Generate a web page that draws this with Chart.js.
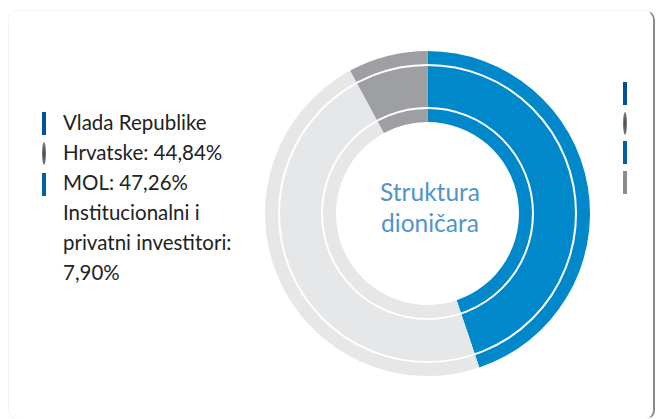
<!DOCTYPE html>
<html>
<head>
<meta charset="utf-8">
<script src="https://cdn.jsdelivr.net/npm/chart.js@4"></script>
<style>
  html, body { margin: 0; padding: 0; background: #ffffff; }
  body { width: 658px; height: 419px; position: relative; overflow: hidden; font-family: Lato, "Open Sans", sans-serif; }
  #card { position: absolute; left: 8px; top: 10px; width: 647px; height: 410px; background: #fff;
          border: 1px solid #f4f4f4; border-right: 2px solid #8c8c8c; border-radius: 10px; box-sizing: border-box; }
  #wrap { position: absolute; left: 265px; top: 51px; width: 325px; height: 325px; }
  #legend { position: absolute; left: 63px; top: 107px; width: 190px; font-size: 20.5px; line-height: 30px; color: #222; }
  .mk { position: absolute; width: 4px; height: 23px; }
  .mk.ell { border-radius: 50%; background: radial-gradient(ellipse at center, #444 0%, #777 60%, #bbb 100%); width: 4px; }
  #center { position: absolute; left: 330px; top: 176px; width: 200px; text-align: center; font-size: 24.5px; line-height: 31px; color: #4f94cf; }
</style>
</head>
<body>
<div id="card"></div>
<div id="legend"></div>
<div id="center"></div>
<div id="wrap"><canvas id="c" width="325" height="325"></canvas></div>
<script>
const categories = ["Vlada Republike Hrvatske", "MOL", "Institucionalni i privatni investitori"];
const values = [44.84, 47.26, 7.90];
const sliceColors = ["#0088cb", "#e6e7e8", "#9d9fa2"];
const centerTitle = ["Struktura", "dioničara"];
const markerColors = ["#00509a", "ell", "#0060a8", "#8c8c8c"];

const fmt = v => v.toFixed(2).replace('.', ',') + '%';

// legend text
const leg = document.getElementById('legend');
categories.forEach((c, i) => {
  const d = document.createElement('div');
  d.textContent = c + ': ' + fmt(values[i]);
  leg.appendChild(d);
});
document.getElementById('center').innerHTML = centerTitle.join('<br>');

// markers (left column and cut-off right column)
function addMarkers(x, ys) {
  ys.forEach((y, i) => {
    const m = document.createElement('div');
    m.className = 'mk' + (markerColors[i] === 'ell' ? ' ell' : '');
    if (markerColors[i] !== 'ell') m.style.background = markerColors[i];
    m.style.left = x + 'px';
    m.style.top = y + 'px';
    document.body.appendChild(m);
  });
}
addMarkers(42, [112, 142, 173]);
addMarkers(623, [82, 112, 141, 171]);

const ringLines = {
  id: 'ringLines',
  afterDatasetsDraw(chart) {
    const arc = chart.getDatasetMeta(0).data[0];
    if (!arc) return;
    const ctx = chart.ctx;
    const R = arc.outerRadius, r = arc.innerRadius;
    const radii = [R - (R - r) * 0.197, r + (R - r) * 0.197];
    ctx.save();
    ctx.strokeStyle = '#ffffff';
    ctx.lineWidth = 2;
    radii.forEach(rr => {
      ctx.beginPath();
      ctx.arc(arc.x, arc.y, rr, 0, Math.PI * 2);
      ctx.stroke();
    });
    ctx.restore();
  }
};

new Chart(document.getElementById('c'), {
  type: 'doughnut',
  data: {
    labels: categories,
    datasets: [{
      data: values,
      backgroundColor: sliceColors,
      borderWidth: 0,
      hoverOffset: 0,
      offset: 0
    }]
  },
  options: {
    responsive: false,
    animation: false,
    cutout: '56.3%',
    layout: { padding: 0 },
    plugins: { legend: { display: false }, tooltip: { enabled: false } }
  },
  plugins: [ringLines]
});
</script>
</body>
</html>
